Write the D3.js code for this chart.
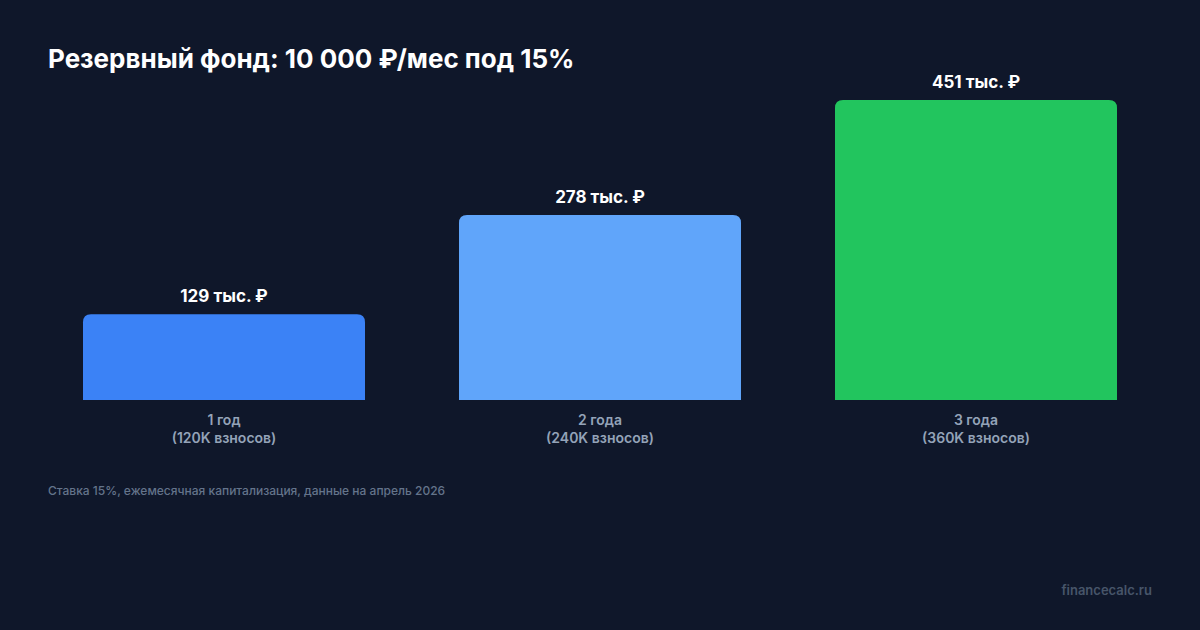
<!DOCTYPE html>
<html>
<head>
<meta charset="utf-8">
<script src="https://cdn.jsdelivr.net/npm/d3@7"></script>
<style>
  body { margin: 0; background: #0f172a; }
  svg { display: block; font-family: Inter, "Noto Sans", sans-serif; }
</style>
</head>
<body>
<svg id="chart"></svg>
<script>
// Chart data
const categories = ["1 год", "2 года", "3 года"];
const subLabels = ["(120K взносов)", "(240K взносов)", "(360K взносов)"];
const values = [129, 278, 451];
const valueLabels = ["129 тыс. ₽", "278 тыс. ₽", "451 тыс. ₽"];
const colors = ["#3b82f6", "#60a5fa", "#22c55e"];

const width = 1200, height = 630;
const svg = d3.select("#chart").attr("width", width).attr("height", height);

svg.append("rect").attr("width", width).attr("height", height).attr("fill", "#0f172a");

// Title
svg.append("text")
   .attr("x", 48).attr("y", 68)
   .attr("fill", "#ffffff")
   .attr("font-size", 26).attr("font-weight", 700)
   .text("Резервный фонд: 10 000 ₽/мес под 15%");

// Scales
const x = d3.scaleBand()
            .domain(categories)
            .range([83, 1117])
            .paddingInner(0.25)
            .paddingOuter(0);

const y = d3.scaleLinear()
            .domain([0, d3.max(values)])
            .range([400, 100]);

// Bar with rounded top corners
function barPath(x0, y0, w, h, r) {
    return `M${x0},${y0 + h} V${y0 + r} Q${x0},${y0} ${x0 + r},${y0} H${x0 + w - r} Q${x0 + w},${y0} ${x0 + w},${y0 + r} V${y0 + h} Z`;
}

const g = svg.append("g");
categories.forEach((c, i) => {
    const bx = x(c), by = y(values[i]), bw = x.bandwidth(), bh = y(0) - y(values[i]);
    g.append("path").attr("d", barPath(bx, by, bw, bh, 8)).attr("fill", colors[i]);

    g.append("text")
     .attr("x", bx + bw / 2).attr("y", by - 12)
     .attr("text-anchor", "middle")
     .attr("fill", "#ffffff").attr("font-size", 17).attr("font-weight", 700)
     .text(valueLabels[i]);

    g.append("text")
     .attr("x", bx + bw / 2).attr("y", y(0) + 25)
     .attr("text-anchor", "middle")
     .attr("fill", "#94a3b8").attr("font-size", 14).attr("font-weight", 600)
     .text(c);

    g.append("text")
     .attr("x", bx + bw / 2).attr("y", y(0) + 43)
     .attr("text-anchor", "middle")
     .attr("fill", "#94a3b8").attr("font-size", 14).attr("font-weight", 600)
     .text(subLabels[i]);
});

// Footnote
svg.append("text")
   .attr("x", 48).attr("y", 495)
   .attr("fill", "#64748b").attr("font-size", 12).attr("font-weight", 500)
   .text("Ставка 15%, ежемесячная капитализация, данные на апрель 2026");

svg.append("text")
   .attr("x", 1152).attr("y", 595)
   .attr("text-anchor", "end")
   .attr("fill", "#475569").attr("font-size", 13).attr("font-weight", 600)
   .text("financecalc.ru");
</script>
</body>
</html>
